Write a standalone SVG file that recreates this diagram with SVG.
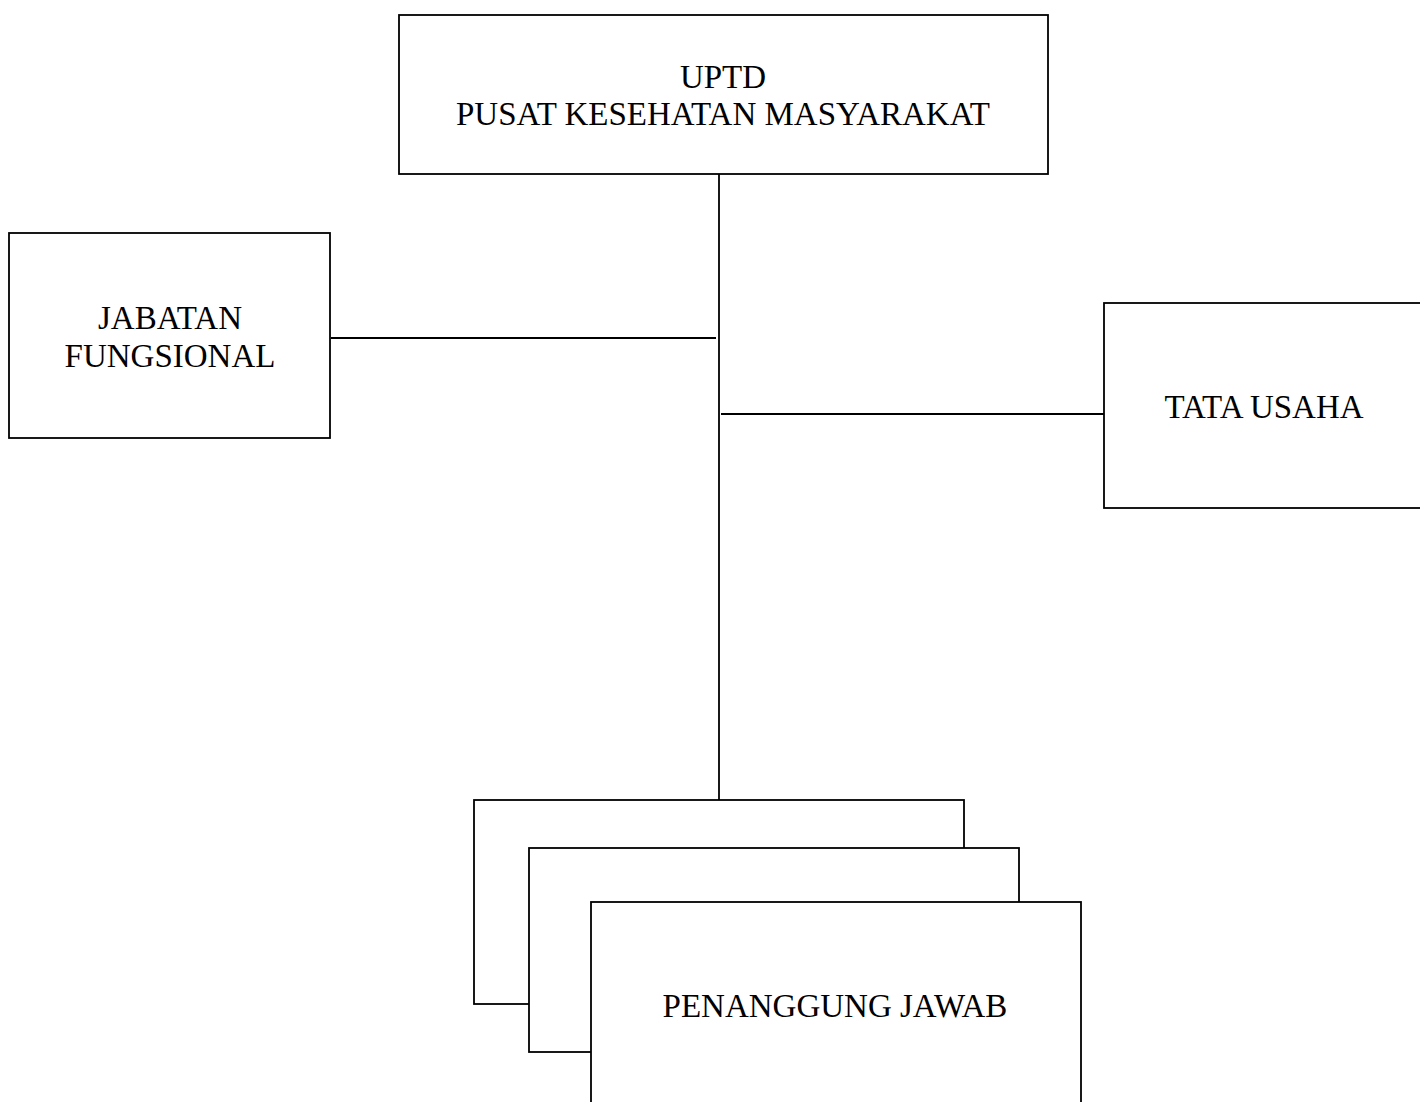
<svg xmlns="http://www.w3.org/2000/svg" width="1420" height="1102" viewBox="0 0 1420 1102">
<style>
.box{fill:#fff;stroke:#000;stroke-width:1.8}
.lbl{font-family:"Liberation Serif","Times New Roman",serif;font-size:33px;fill:#000;text-anchor:middle}
.con{stroke:#000;stroke-width:1.8;fill:none}
</style>
<rect width="1420" height="1102" fill="#fff"/>
<g id="connectors">
<line class="con" x1="719" y1="174" x2="719" y2="800"/>
<line class="con" x1="331" y1="338" x2="716" y2="338"/>
<line class="con" x1="721" y1="414" x2="1104" y2="414"/>
</g>
<g id="uptd">
<rect class="box" x="399" y="15" width="649" height="159"/>
<text class="lbl" x="723" y="88">UPTD</text>
<text class="lbl" x="723" y="125">PUSAT KESEHATAN MASYARAKAT</text>
</g>
<g id="jabatan">
<rect class="box" x="9" y="233" width="321" height="205"/>
<text class="lbl" x="170" y="329">JABATAN</text>
<text class="lbl" x="170" y="367">FUNGSIONAL</text>
</g>
<g id="tatausaha">
<rect class="box" x="1104" y="303" width="330" height="205"/>
<text class="lbl" x="1264" y="418">TATA USAHA</text>
</g>
<g id="pj1">
<rect class="box" x="474" y="800" width="490" height="204"/>
</g>
<g id="pj2">
<rect class="box" x="529" y="848" width="490" height="204"/>
</g>
<g id="pj3">
<rect class="box" x="591" y="902" width="490" height="230"/>
<text class="lbl" x="835" y="1017">PENANGGUNG JAWAB</text>
</g>
</svg>
